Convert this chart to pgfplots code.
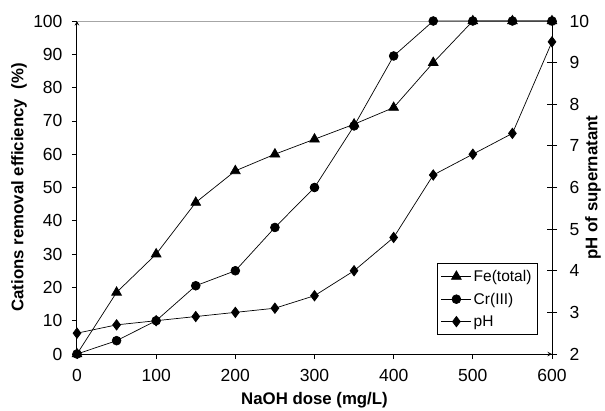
\documentclass[border=0pt]{standalone}
\usepackage{fontspec}
\setmainfont{Liberation Sans}
\usepackage{pgfplots}
\pgfplotsset{compat=1.18}
\pgfplotstableread{
x fe cr
0 0 0
50 18.5 4
100 30 10
150 45.5 20.5
200 55 25
250 60 38
300 64.5 50
350 69 68.5
400 74 89.5
450 87.5 100
500 100 100
550 100 100
600 100 100
}\eff
\pgfplotstableread{
x ph
0 2.5
50 2.7
100 2.8
150 2.9
200 3.0
250 3.1
300 3.4
350 4.0
400 4.8
450 6.3
500 6.8
550 7.3
600 9.5
}\phdata
\begin{document}
\begin{tikzpicture}
\pgfplotsset{
  every axis/.append style={
    scale only axis, width=475pt, height=333pt,
    xmin=0, xmax=600,
    /pgf/number format/assume math mode=true,
    ticklabel style={font=\fontsize{17.5}{20}\selectfont},
    label style={font=\bfseries\fontsize{16.8}{19}\selectfont},
    axis line style={-, line width=1pt},
    major tick length=5pt,
    every tick/.style={black, line width=0.8pt},
  },
  feS/.style={black, line width=0.7pt, mark=triangle*, mark size=5.6pt, mark options={solid}},
  crS/.style={black, line width=0.7pt, mark=*, mark size=4.4pt},
  phS/.style={black, line width=0.7pt, mark=diamond*, mark size=5.2pt},
}
\begin{axis}[
  axis lines=left,
  ymin=0, ymax=100,
  xtick={0,100,...,600},
  ytick={0,10,...,100},
  tick align=outside,
  xlabel={NaOH dose (mg/L)},
  ylabel={Cations removal efficiency\ \ (\%)},
  xlabel style={at={(rel axis cs:0.5,0)}, anchor=base, yshift=-50pt},
  ylabel style={at={(axis description cs:-0.122,0.5)}, anchor=center},
  xticklabel style={yshift=-7pt},
  yticklabel style={xshift=-6pt},
  clip=false,
]
\draw[gray!70, line width=0.8pt] (rel axis cs:0,1) -- (rel axis cs:1,1);
\addplot[feS] table[x=x, y=fe] {\eff};
\addplot[crS] table[x=x, y=cr] {\eff};
\end{axis}
\begin{axis}[
  axis x line=none,
  axis y line=right,
  ymin=2, ymax=10,
  ytick={2,3,...,10},
  tick align=center,
  major tick length=10pt,
  yticklabel style={xshift=9pt},
  ylabel style={at={(axis description cs:1.0863,0.5)}, anchor=center, rotate=0, font=\bfseries\fontsize{16.8}{19}\selectfont},
  ylabel={pH of supernatant},
  legend style={at={(0.97,0.057)}, anchor=south east, draw=black, line width=0.6pt,
    font=\fontsize{15.5}{18}\selectfont, row sep=6pt, inner xsep=4pt, inner ysep=5pt},
  legend cell align=left,
  legend image code/.code={\draw[#1] (0pt,0pt) -- (30pt,0pt); \path[#1, draw=none] plot coordinates {(15pt,0pt)};},
  clip=false,
]
\addlegendimage{feS}\addlegendentry{Fe(total)}
\addlegendimage{crS}\addlegendentry{Cr(III)}
\addlegendimage{phS}\addlegendentry{pH}
\addplot[phS] table[x=x, y=ph] {\phdata};
\end{axis}
\path[use as bounding box] (-77pt,-54pt) rectangle (528pt,354pt);
\end{tikzpicture}
\end{document}
